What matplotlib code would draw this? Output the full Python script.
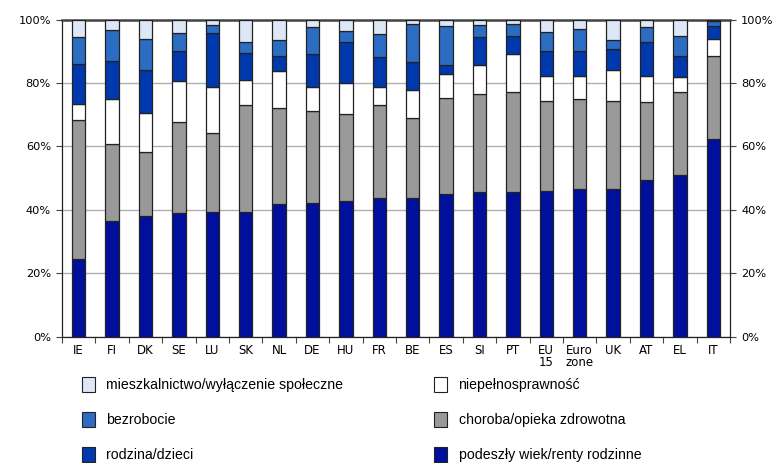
import numpy as np
import matplotlib
matplotlib.use("Agg")
import matplotlib.pyplot as plt
from matplotlib.patches import Patch

# country codes on the x axis
countries = ["IE", "FI", "DK", "SE", "LU", "SK", "NL", "DE", "HU", "FR",
             "BE", "ES", "SI", "PT", "EU\n15", "Euro\nzone", "UK", "AT", "EL", "IT"]

# shares of social benefit spending (%), bottom to top
old_age = [24.5, 36.6, 38.1, 39.0, 39.4, 39.4, 41.8, 42.3, 42.7, 43.7,
           43.7, 45.1, 45.5, 45.5, 45.9, 46.5, 46.5, 49.3, 51.1, 62.3]
sickness = [43.9, 24.3, 20.2, 28.8, 24.8, 33.7, 30.3, 28.8, 27.5, 29.4,
            25.3, 30.1, 31.2, 31.8, 28.6, 28.5, 28.0, 24.6, 26.1, 26.1]
disability = [5.0, 14.1, 12.2, 12.7, 14.7, 7.9, 11.6, 7.8, 9.8, 5.8,
              8.8, 7.7, 8.9, 12.0, 7.6, 7.1, 9.6, 8.4, 4.6, 5.5]
family = [12.7, 12.1, 13.7, 9.7, 17.0, 8.5, 4.7, 10.4, 13.1, 9.4,
          8.7, 2.7, 8.9, 5.6, 8.1, 8.1, 6.6, 10.8, 6.9, 4.2]
unemployment = [8.3, 9.7, 9.8, 5.7, 2.4, 3.6, 5.1, 8.4, 3.2, 7.1,
                12.2, 12.5, 3.8, 3.6, 6.0, 7.0, 2.8, 4.7, 6.2, 1.5]
housing = [5.6, 3.2, 6.0, 4.1, 1.7, 6.9, 6.5, 2.3, 3.7, 4.6,
           1.3, 1.9, 1.7, 1.5, 3.8, 2.8, 6.5, 2.2, 5.1, 0.4]

labels = ["podeszły wiek/renty rodzinne", "choroba/opieka zdrowotna",
          "niepełnosprawność", "rodzina/dzieci", "bezrobocie",
          "mieszkalnictwo/wyłączenie społeczne"]
colors = ["#000f9c", "#999999", "#ffffff", "#0038ad", "#2c6dc4", "#dde7f5"]

series = [old_age, sickness, disability, family, unemployment, housing]

fig = plt.figure(figsize=(7.74, 4.63), dpi=100)
ax = fig.add_axes([0.0801, 0.2728, 0.8630, 0.6847])

x = np.arange(len(countries))
bottom = np.zeros(len(countries))
for vals, col in zip(series, colors):
    vals = np.array(vals)
    ax.bar(x, vals, 0.4, bottom=bottom, color=col, edgecolor="#222222",
           linewidth=0.9, zorder=3)
    bottom += vals

ax.set_xlim(-0.5, len(countries) - 0.5)
ax.set_ylim(0, 100)
ax.set_yticks([0, 20, 40, 60, 80, 100])
ax.set_yticklabels([f"{v}%" for v in range(0, 101, 20)])
ax.yaxis.grid(True, color="#b0b0b0", linewidth=1.0, zorder=0)
ax.tick_params(axis="y", left=True, right=True, labelleft=True, labelright=True,
               length=4, width=0.8, labelsize=8.2, pad=4, color="#444444")

ax.set_xticks(x)
ax.set_xticklabels(countries, fontsize=8.5, linespacing=0.95)
ax.set_xticks(np.arange(-0.5, len(countries)), minor=True)
ax.tick_params(axis="x", which="major", length=0, pad=5)
ax.tick_params(axis="x", which="minor", length=4, width=0.8, color="#444444")

for side in ["left", "right", "bottom"]:
    ax.spines[side].set_color("#222222")
    ax.spines[side].set_linewidth(0.9)
ax.spines["top"].set_color("#444444")
ax.spines["top"].set_linewidth(1.8)

handles = [Patch(facecolor=c, edgecolor="#222222", linewidth=0.8) for c in colors]
leg_kw = dict(frameon=False, handlelength=0.9, handleheight=1.2,
              labelspacing=1.42, handletextpad=0.8,
              prop={"family": "Liberation Sans", "size": 10.2})
left_order = [5, 4, 3]
right_order = [2, 1, 0]
fig.legend([handles[i] for i in left_order], [labels[i] for i in left_order],
           loc="upper left", bbox_to_anchor=(0.099, 0.198), borderaxespad=0,
           **leg_kw)
fig.legend([handles[i] for i in right_order], [labels[i] for i in right_order],
           loc="upper left", bbox_to_anchor=(0.554, 0.198), borderaxespad=0,
           **leg_kw)

fig.savefig("out.png", dpi=100)
